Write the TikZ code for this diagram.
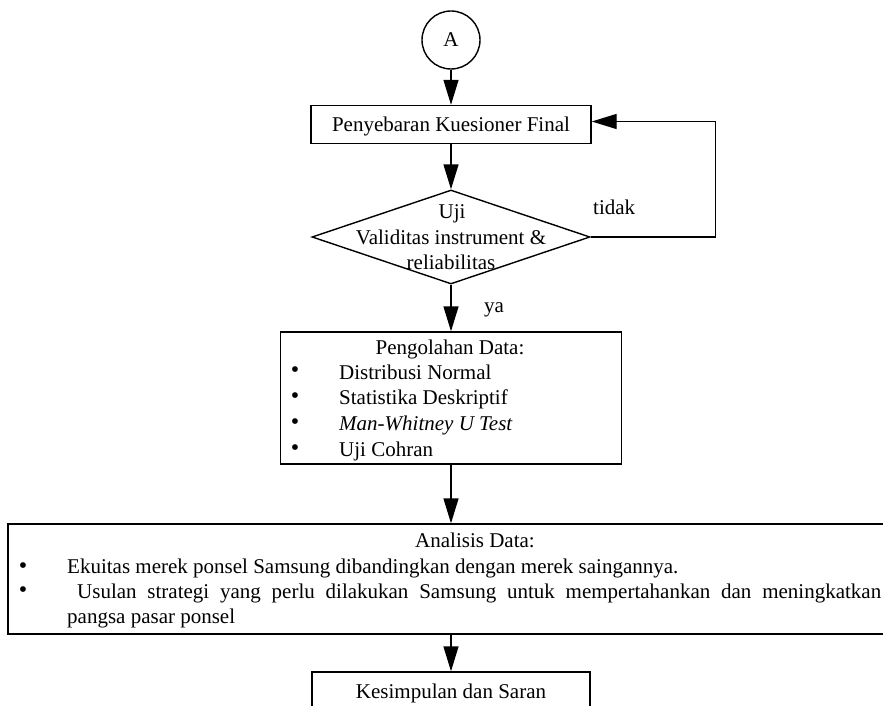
\documentclass[tikz,border=0pt]{standalone}
\usepackage{fontspec}
\setmainfont{Liberation Serif}
\usetikzlibrary{arrows.meta,shapes.geometric}
\newcommand\myfs{\fontsize{21}{25}\selectfont}
\newcommand\bulfs{\fontsize{24}{24}\selectfont}
\tikzset{
  box/.style={draw, line width=1.4pt, inner sep=0pt, font=\myfs, text height=14pt, text depth=0pt},
  txt/.style={inner sep=0pt, anchor=base west, font=\myfs},
  ctxt/.style={inner sep=0pt, anchor=base, font=\myfs},
  bul/.style={inner sep=0pt, anchor=base, font=\bulfs},
  arr/.style={-{Triangle[length=25pt,width=15pt]}, line width=1.4pt},
}
\begin{document}
\begin{tikzpicture}[x=1pt,y=-1pt]
\useasboundingbox (0,0) rectangle (883,706);
\clip (0,0) rectangle (883,706);
% nodes
\node[box, circle, minimum size=58pt] (a) at (451,40) {A};
\node[box, minimum width=280pt, minimum height=38pt] (b1) at (451,124.5) {Penyebaran Kuesioner Final};
\node[draw, line width=1.4pt, diamond, inner sep=0pt, minimum width=278pt, minimum height=94pt] (d) at (451,237) {};
\node[ctxt] (d1) at (452,218) {Uji};
\node[ctxt] (d2) at (451,244) {Validitas instrument \&};
\node[ctxt] (d3) at (451,269) {reliabilitas};
\node[txt] (tidak) at (593,214) {tidak};
\node[txt] (ya) at (484,312) {ya};
% Pengolahan
\node[box, minimum width=341pt, minimum height=132pt] (b2) at (451,398) {};
\node[ctxt] (p0) at (450,354) {Pengolahan Data:};
\node[bul] (pb1) at (295,377) {•};
\node[bul] (pb2) at (295,403) {•};
\node[bul] (pb3) at (295,429) {•};
\node[bul] (pb4) at (295,455) {•};
\node[txt] (p1) at (339,379) {Distribusi Normal};
\node[txt] (p2) at (339,404) {Statistika Deskriptif};
\node[txt] (p3) at (339,430) {\textit{Man-Whitney U Test}};
\node[txt] (p4) at (339,456) {Uji Cohran};
% Analisis
\node[box, minimum width=934pt, minimum height=110pt] (b3) at (475,579) {};
\node[ctxt] (q0) at (475,547) {Analisis Data:};
\node[bul] (qb1) at (23,573) {•};
\node[bul] (qb2) at (23,597) {•};
\node[txt] (q1) at (67,573) {Ekuitas merek ponsel Samsung dibandingkan dengan merek saingannya.};
\node[txt] (q2) at (77,598) {\makebox[804pt][s]{Usulan strategi yang perlu dilakukan Samsung untuk mempertahankan dan meningkatkan}};
\node[txt] (q3) at (67,623) {pangsa pasar ponsel};
% Kesimpulan
\node[box, minimum width=278pt, minimum height=38pt] (b4) at (451,691) {Kesimpulan dan Saran};
% connectors
\draw[arr] (a) -- (b1);
\draw[arr] (b1) -- (d);
\draw[arr] (d) -- (b2);
\draw[arr] (b2.south) -- (b2.south |- b3.north);
\draw[arr] (b4.north |- b3.south) -- (b4.north);
\draw[arr] (d.east) -- ++(125,0) |- ([yshift=3pt]b1.east);
\end{tikzpicture}
\end{document}
